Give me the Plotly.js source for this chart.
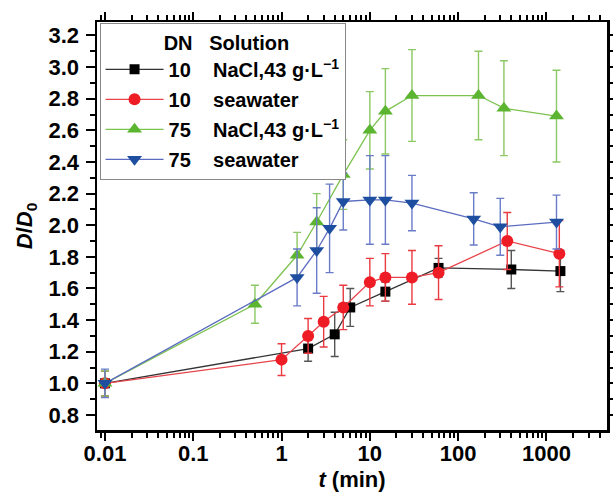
<!DOCTYPE html>
<html>
<head>
<meta charset="utf-8">
<script src="https://cdn.plot.ly/plotly-3.0.1.min.js"></script>
<style>html,body{margin:0;padding:0;background:#fff;}#chart{width:613px;height:492px;}</style>
</head>
<body>
<div id="chart"></div>
<script>
// DN 10, NaCl 43 g/L
const t_n10 = [0.01, 2, 4, 6, 15, 60, 400, 1440];
const d_n10 = [1.00, 1.22, 1.31, 1.48, 1.58, 1.73, 1.72, 1.71];
const e_n10 = [0.08, 0.08, 0.14, 0.12, 0.06, 0.06, 0.12, 0.13];
// DN 10, seawater
const t_s10 = [0.01, 1, 2, 3, 5, 10, 15, 30, 60, 360, 1400];
const d_s10 = [1.00, 1.15, 1.30, 1.39, 1.48, 1.64, 1.67, 1.67, 1.70, 1.90, 1.82];
const e_s10 = [0.08, 0.10, 0.11, 0.16, 0.14, 0.15, 0.15, 0.17, 0.17, 0.18, 0.21];
// DN 75, NaCl 43 g/L
const t_n75 = [0.01, 0.5, 1.5, 2.5, 5, 10, 15, 30, 170, 330, 1300];
const d_n75 = [1.00, 1.50, 1.81, 2.02, 2.32, 2.60, 2.72, 2.82, 2.82, 2.74, 2.69];
const e_n75 = [0.08, 0.12, 0.145, 0.18, 0.22, 0.245, 0.27, 0.29, 0.28, 0.30, 0.29];
// DN 75, seawater
const t_s75 = [0.01, 1.5, 2.5, 3.5, 5, 10, 15, 30, 150, 300, 1300];
const d_s75 = [1.00, 1.67, 1.84, 1.98, 2.15, 2.16, 2.16, 2.14, 2.04, 1.99, 2.02];
const e_s75 = [0.09, 0.18, 0.27, 0.28, 0.18, 0.28, 0.28, 0.175, 0.165, 0.18, 0.17];

const xTickVals = [0.01, 0.1, 1, 10, 100, 1000];
const xTickText = ['0.01', '0.1', '1', '10', '100', '1000'];

const NB = '\u00a0';
const FAM = 'Liberation Sans, Arial, sans-serif';
function mk(x, y, e, name, lineColor, markerColor, errColor, symbol, size) {
  return {
    x: x, y: y, type: 'scatter', mode: 'lines+markers', name: name,
    legendgroup: name,
    line: {color: lineColor, width: 1.3},
    marker: {symbol: symbol, size: size, color: markerColor, line: {width: 0}},
    error_y: {type: 'data', array: e, visible: true, color: errColor, thickness: 1.4, width: 4}
  };
}
const traces = [
  mk(t_n10, d_n10, e_n10, '<b>10' + NB.repeat(4) + 'NaCl,43 g·L<sup>−1</sup></b>', '#333333', '#000000', '#555555', 'square', 10),
  mk(t_s10, d_s10, e_s10, '<b>10' + NB.repeat(4) + 'seawater</b>', '#e8434a', '#ee1c25', '#ea3a42', 'circle', 12),
  mk(t_n75, d_n75, e_n75, '<b>75' + NB.repeat(4) + 'NaCl,43 g·L<sup>−1</sup></b>', '#7cc24f', '#5cb531', '#8cc863', 'triangle-up', 13),
  mk(t_s75, d_s75, e_s75, '<b>75' + NB.repeat(4) + 'seawater</b>', '#5b6cc0', '#1e4ea0', '#6a7cc8', 'triangle-down', 13)
];

const layout = {
  width: 613, height: 492,
  margin: {l: 97, r: 6, t: 22, b: 62},
  paper_bgcolor: '#fff', plot_bgcolor: '#fff',
  font: {family: FAM, size: 20, color: '#000'},
  showlegend: true,
  legend: {
    x: 0.005, y: 0.998, xanchor: 'left', yanchor: 'top',
    bgcolor: '#fff', bordercolor: '#888', borderwidth: 1,
    font: {family: FAM, size: 20, color: '#000'},
    title: {text: '<b>' + NB.repeat(11) + 'DN' + NB.repeat(3) + 'Solution</b>', font: {family: FAM, size: 20, color: '#000'}},
    tracegroupgap: 1, traceorder: 'grouped', itemwidth: 58
  },
  xaxis: {
    type: 'log', range: [-2.09, 3.686],
    tickvals: xTickVals, ticktext: xTickText,
    ticks: 'outside', ticklen: 8, tickwidth: 2, tickcolor: '#000',
    minor: {dtick: 'D1', ticks: 'outside', ticklen: 5, tickwidth: 2, tickcolor: '#000'},
    showline: true, linecolor: '#000', linewidth: 2.5, mirror: 'ticks',
    showgrid: false, zeroline: false,
    ticklabelstandoff: -6,
    tickfont: {family: FAM, size: 22, color: '#000', weight: 'bold'},
    title: {text: '<b><i>t</i> (min)</b>', font: {family: FAM, size: 22, color: '#000'}, standoff: 7}
  },
  yaxis: {
    range: [0.705, 3.285], dtick: 0.2, tick0: 0.8, tickformat: '.1f',
    ticks: 'outside', ticklen: 9, tickwidth: 2, tickcolor: '#000',
    minor: {dtick: 0.1, ticks: 'outside', ticklen: 5, tickwidth: 2, tickcolor: '#000'},
    showline: true, linecolor: '#000', linewidth: 2.5, mirror: 'ticks',
    showgrid: false, zeroline: false,
    ticklabelstandoff: 2,
    tickfont: {family: FAM, size: 22, color: '#000', weight: 'bold'},
    title: {text: '<b><i>D</i>/<i>D</i><sub>0</sub></b>', font: {family: FAM, size: 22, color: '#000'}, standoff: 10}
  }
};
Plotly.newPlot('chart', traces, layout, {displayModeBar: false, staticPlot: true});
</script>
</body>
</html>
